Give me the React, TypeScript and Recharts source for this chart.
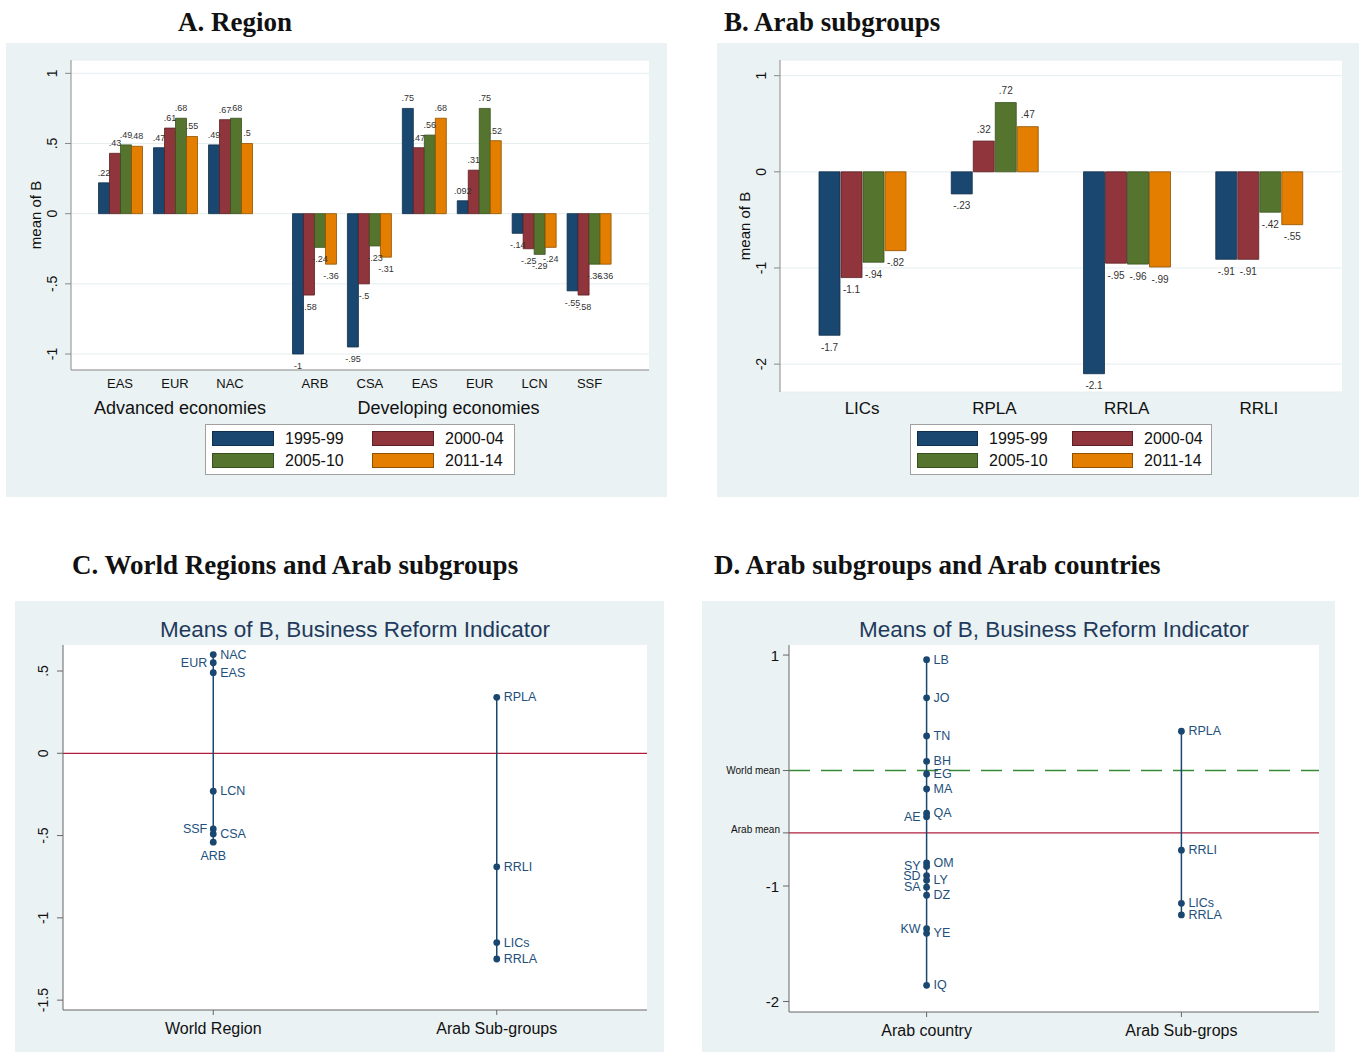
import React from 'react';
import {
  BarChart,
  Bar,
  XAxis,
  YAxis,
  CartesianGrid,
  LabelList,
  ScatterChart,
  Scatter,
  ReferenceLine,
} from 'recharts';

// Periods shown in the bar panels
const PERIODS = ['1995-99', '2000-04', '2005-10', '2011-14'];
const PERIOD_KEYS = ['p1', 'p2', 'p3', 'p4'];

// A. Region (mean of B by period)
const advancedRegions = ['EAS', 'EUR', 'NAC'];
const advancedValues = [
  [0.22, 0.43, 0.49, 0.48],
  [0.47, 0.61, 0.68, 0.55],
  [0.49, 0.67, 0.68, 0.5],
];
const developingRegions = ['ARB', 'CSA', 'EAS', 'EUR', 'LCN', 'SSF'];
const developingValues = [
  [-1, -0.58, -0.24, -0.36],
  [-0.95, -0.5, -0.23, -0.31],
  [0.75, 0.47, 0.56, 0.68],
  [0.092, 0.31, 0.75, 0.52],
  [-0.14, -0.25, -0.29, -0.24],
  [-0.55, -0.58, -0.36, -0.36],
];

// B. Arab subgroups
const arabGroups = ['LICs', 'RPLA', 'RRLA', 'RRLI'];
const arabGroupValues = [
  [-1.7, -1.1, -0.94, -0.82],
  [-0.23, 0.32, 0.72, 0.47],
  [-2.1, -0.95, -0.96, -0.99],
  [-0.91, -0.91, -0.42, -0.55],
];

// C. World regions and Arab subgroups
const worldRegionNames = ['NAC', 'EUR', 'EAS', 'LCN', 'SSF', 'CSA', 'ARB'];
const worldRegionMeans = [0.6, 0.55, 0.49, -0.23, -0.46, -0.49, -0.54];
const subgroupNames = ['RPLA', 'RRLI', 'LICs', 'RRLA'];
const subgroupMeans = [0.34, -0.69, -1.15, -1.25];

// D. Arab countries
const countryNames = ['LB', 'JO', 'TN', 'BH', 'EG', 'MA', 'QA', 'AE', 'OM', 'SY', 'SD', 'LY', 'SA', 'DZ', 'KW', 'YE', 'IQ'];
const countryMeans = [0.96, 0.63, 0.3, 0.08, -0.03, -0.16, -0.37, -0.4, -0.8, -0.83, -0.91, -0.95, -1.01, -1.08, -1.37, -1.41, -1.86];
const WORLD_MEAN = 0;
const ARAB_MEAN = -0.54;

const C_GROUPS = ['', 'World Region', 'Arab Sub-groups'];
const D_GROUPS = ['', 'Arab country', 'Arab Sub-grops'];

// styling
const COLORS = ['#1a476f', '#90353b', '#55752f', '#e37e00'];
const EDGES = ['#10304d', '#5c2024', '#37501c', '#8f5200'];
const NAVY = '#1a476f';
const LABEL_BLUE = '#22507c';
const RED = '#b01e3c';
const GREEN = '#378a37';
const PANEL_BG = '#eaf2f3';
const GRID = '#e6eef0';
const AXIS = '#8a8a8a';
const TXT = '#111';
const SANS = '"Liberation Sans", Arial, Helvetica, sans-serif';
const NARROW = '"Liberation Sans Narrow", "Arial Narrow", "Liberation Sans", sans-serif';
const SERIF = '"Liberation Serif", "Times New Roman", serif';

const toRows = (names: string[], values: number[][]) =>
  names.map((name, i) => {
    const row: any = { name };
    PERIOD_KEYS.forEach((k, j) => (row[k] = values[i][j]));
    return row;
  });

const toPoints = (names: string[], values: number[], g: number) =>
  names.map((name, i) => ({ g, v: values[i], name }));

// Stata-like number format: two significant digits, no leading zero
const fmt = (v: number) => {
  const n = parseFloat(Number(v).toPrecision(2));
  return String(n).replace(/^(-?)0\./, '$1.');
};

const makeBarLabel = (up: number, down: number, family: string, size: number) => (props: any) => {
  const vb = props.viewBox ?? props;
  const { x, y, width, height } = vb;
  const value = props.value;
  const top = Math.min(y, y + height);
  const bottom = Math.max(y, y + height);
  const ty = value >= 0 ? top - up : bottom + down;
  return (
    <text x={x + width / 2} y={ty} textAnchor="middle" dominantBaseline="central" fontSize={size} fontFamily={family} fill="#333">
      {fmt(value)}
    </text>
  );
};

const RotTick = (props: any) => {
  const { x, y, payload, dx, size } = props;
  const tx = x + dx;
  return (
    <text x={tx} y={y} transform={`rotate(-90, ${tx}, ${y})`} textAnchor="middle" fontSize={size} fontFamily={SANS} fill={TXT}>
      {fmt(payload.value)}
    </text>
  );
};

const CatTick = (props: any) => {
  const { x, y, payload, dy, size, names } = props;
  const label = names ? names[payload.value] : payload.value;
  return (
    <text x={x} y={y + dy} textAnchor="middle" dominantBaseline="central" fontSize={size} fontFamily={SANS} fill={TXT}>
      {label}
    </text>
  );
};

const MeanTick = (props: any) => {
  const { x, y, payload } = props;
  const v = payload.value;
  const small = v === WORLD_MEAN || v === ARAB_MEAN;
  const label = v === WORLD_MEAN ? 'World mean' : v === ARAB_MEAN ? 'Arab mean' : fmt(v);
  return (
    <text x={x - (small ? 3 : 4)} y={small && v === ARAB_MEAN ? y - 3 : y} textAnchor="end" dominantBaseline="central" fontSize={small ? 10 : 15} fontFamily={SANS} fill={TXT}>
      {label}
    </text>
  );
};

const makeDot = (left: string[], below: string[]) => (props: any) => {
  const { cx, cy, payload } = props;
  const name = payload.name;
  let label;
  if (below.includes(name)) {
    label = <text x={cx} y={cy + 14} textAnchor="middle" dominantBaseline="central" fontSize={12.5} fontFamily={SANS} fill={LABEL_BLUE}>{name}</text>;
  } else if (left.includes(name)) {
    label = <text x={cx - 6} y={cy} textAnchor="end" dominantBaseline="central" fontSize={12.5} fontFamily={SANS} fill={LABEL_BLUE}>{name}</text>;
  } else {
    label = <text x={cx + 7} y={cy} textAnchor="start" dominantBaseline="central" fontSize={12.5} fontFamily={SANS} fill={LABEL_BLUE}>{name}</text>;
  }
  return (
    <g>
      <circle cx={cx} cy={cy} r={3.4} fill={NAVY} />
      {label}
    </g>
  );
};

const Box = ({ left, top, width, height, bg }: any) => (
  <div style={{ position: 'absolute', left, top, width, height, background: bg }} />
);

const Title = ({ left, top, text }: any) => (
  <div style={{ position: 'absolute', left, top, fontFamily: SERIF, fontWeight: 'bold', fontSize: 27, lineHeight: '30px', color: '#111', whiteSpace: 'nowrap' }}>
    {text}
  </div>
);

const ChartTitle = ({ center, top, text }: any) => (
  <div style={{ position: 'absolute', left: center - 300, width: 600, top, textAlign: 'center', fontFamily: SANS, fontSize: 22.5, lineHeight: '26px', color: '#1f3a5c' }}>
    {text}
  </div>
);

const PeriodLegend = ({ left, top, width, col2, sw }: any) => (
  <div style={{ position: 'absolute', left, top, width, height: 51, background: '#fff', border: '1px solid #a0a0a0', boxSizing: 'border-box', fontFamily: SANS, fontSize: 16, color: TXT }}>
    {PERIODS.map((p, i) => {
      const col = i % 2;
      const row = Math.floor(i / 2);
      return (
        <div key={p} style={{ position: 'absolute', left: 6 + col * col2, top: 6 + row * 22, height: 15, display: 'flex', alignItems: 'center' }}>
          <span style={{ display: 'inline-block', width: sw, height: 15, background: COLORS[i], border: `1px solid ${EDGES[i]}`, boxSizing: 'border-box' }} />
          <span style={{ marginLeft: 11, lineHeight: '15px', whiteSpace: 'nowrap' }}>{p}</span>
        </div>
      );
    })}
  </div>
);

const Abs = ({ left, top, children }: any) => (
  <div style={{ position: 'absolute', left, top }}>{children}</div>
);

const labelA = makeBarLabel(10, 12, SANS, 9);
const labelB = makeBarLabel(12, 12, NARROW, 10);

const A_DOMAIN: [number, number] = [-1.114, 1.095];
const A_TICKS = [-1, -0.5, 0, 0.5, 1];

const App: React.FC = () => {
  const advancedRows = toRows(advancedRegions, advancedValues);
  const developingRows = toRows(developingRegions, developingValues);
  const arabRows = toRows(arabGroups, arabGroupValues);
  const worldPts = toPoints(worldRegionNames, worldRegionMeans, 1);
  const subPts = toPoints(subgroupNames, subgroupMeans, 2);
  const countryPts = toPoints(countryNames, countryMeans, 1);

  const bars = (label: any) =>
    PERIOD_KEYS.map((k, i) => (
      <Bar key={k} dataKey={k} fill={COLORS[i]} stroke={EDGES[i]} strokeWidth={0.8} isAnimationActive={false}>
        <LabelList dataKey={k} content={label} />
      </Bar>
    ));

  return (
    <div style={{ position: 'absolute', left: 0, top: 0, width: 1361, height: 1052, background: '#fff', overflow: 'hidden' }}>
      {/* backgrounds */}
      <Box left={6} top={43} width={661} height={454} bg={PANEL_BG} />
      <Box left={71} top={60} width={578} height={310} bg="#fff" />
      <Box left={717} top={43} width={642} height={454} bg={PANEL_BG} />
      <Box left={780} top={60} width={562} height={332} bg="#fff" />
      <Box left={15} top={601} width={649} height={451} bg={PANEL_BG} />
      <Box left={63} top={645} width={584} height={365} bg="#fff" />
      <Box left={702} top={601} width={633} height={451} bg={PANEL_BG} />
      <Box left={789} top={645} width={530} height={367} bg="#fff" />

      <Title left={178} top={7} text="A. Region" />
      <Title left={724} top={7} text="B. Arab subgroups" />
      <Title left={72} top={550} text="C. World Regions and Arab subgroups" />
      <Title left={714} top={550} text="D. Arab subgroups and Arab countries" />

      {/* A: advanced economies */}
      <Abs left={6} top={43}>
        <BarChart width={266} height={454} data={advancedRows} margin={{ top: 17, right: 0, bottom: 83, left: 25 }} barGap={0} barSize={11}>
          <CartesianGrid vertical={false} stroke={GRID} />
          <XAxis
            dataKey="name"
            interval={0}
            padding={{ left: 21.5, right: 14.5 }}
            height={44}
            tickSize={0}
            tickMargin={0}
            tickLine={false}
            axisLine={{ stroke: AXIS }}
            tick={(p: any) => <CatTick {...p} dy={13} size={13} />}
            label={{ value: 'Advanced economies', position: 'insideBottom', offset: 0, dx: 8.5, fontSize: 18, fill: TXT, fontFamily: SANS }}
          />
          <YAxis
            domain={A_DOMAIN}
            ticks={A_TICKS}
            width={40}
            tickSize={6}
            tickMargin={0}
            axisLine={{ stroke: AXIS }}
            tickLine={{ stroke: AXIS }}
            tick={(p: any) => <RotTick {...p} dx={-8} size={14} />}
            label={{ value: 'mean of B', angle: -90, position: 'center', dx: -15, fontSize: 15, fill: TXT, fontFamily: SANS }}
          />
          {bars(labelA)}
        </BarChart>
      </Abs>

      {/* A: developing economies */}
      <Abs left={272} top={43}>
        <BarChart width={395} height={454} data={developingRows} margin={{ top: 17, right: 18, bottom: 83, left: 0 }} barGap={0} barSize={11}>
          <CartesianGrid vertical={false} stroke={GRID} />
          <XAxis
            dataKey="name"
            interval={0}
            padding={{ left: 15.5, right: 32 }}
            height={44}
            tickSize={0}
            tickMargin={0}
            tickLine={false}
            axisLine={{ stroke: AXIS }}
            tick={(p: any) => <CatTick {...p} dy={13} size={13} />}
            label={{ value: 'Developing economies', position: 'insideBottom', offset: 0, dx: -12, fontSize: 18, fill: TXT, fontFamily: SANS }}
          />
          <YAxis hide domain={A_DOMAIN} ticks={A_TICKS} />
          {bars(labelA)}
        </BarChart>
      </Abs>
      <PeriodLegend left={205} top={424} width={310} col2={160} sw={62} />

      {/* B */}
      <Abs left={717} top={43}>
        <BarChart width={642} height={454} data={arabRows} margin={{ top: 17, right: 17, bottom: 65, left: 23 }} barGap={1} barSize={21}>
          <CartesianGrid vertical={false} stroke={GRID} />
          <XAxis
            dataKey="name"
            interval={0}
            padding={{ left: 16, right: 17 }}
            height={40}
            tickSize={0}
            tickMargin={0}
            tickLine={false}
            axisLine={false}
            tick={(p: any) => <CatTick {...p} dy={16} size={17} />}
          />
          <YAxis
            domain={[-2.29, 1.163]}
            ticks={[-2, -1, 0, 1]}
            width={40}
            tickSize={6}
            tickMargin={0}
            axisLine={{ stroke: AXIS }}
            tickLine={{ stroke: AXIS }}
            tick={(p: any) => <RotTick {...p} dx={-8} size={14} />}
            label={{ value: 'mean of B', angle: -90, position: 'center', dx: -15, fontSize: 15, fill: TXT, fontFamily: SANS }}
          />
          {bars(labelB)}
        </BarChart>
      </Abs>
      <PeriodLegend left={910} top={424} width={302} col2={155} sw={61} />

      {/* C */}
      <ChartTitle center={355} top={617} text="Means of B, Business Reform Indicator" />
      <Abs left={15} top={601}>
        <ScatterChart width={649} height={451} margin={{ top: 44, right: 17, bottom: 12, left: 8 }}>
          <XAxis
            type="number"
            dataKey="g"
            domain={[0.47, 2.53]}
            ticks={[1, 2]}
            height={30}
            tickSize={5}
            tickMargin={0}
            axisLine={{ stroke: '#666' }}
            tickLine={{ stroke: '#666' }}
            tick={(p: any) => <CatTick {...p} dy={13} size={16} names={C_GROUPS} />}
          />
          <YAxis
            type="number"
            dataKey="v"
            domain={[-1.56, 0.658]}
            ticks={[-1.5, -1, -0.5, 0, 0.5]}
            width={40}
            tickSize={6}
            tickMargin={0}
            axisLine={{ stroke: '#666' }}
            tickLine={{ stroke: '#666' }}
            tick={(p: any) => <RotTick {...p} dx={-9} size={14} />}
          />
          <ReferenceLine y={0} stroke={RED} strokeWidth={1.2} />
          <Scatter data={worldPts} line={{ stroke: NAVY, strokeWidth: 1.5 }} lineType="joint" shape={makeDot(['EUR', 'SSF'], ['ARB'])} isAnimationActive={false} />
          <Scatter data={subPts} line={{ stroke: NAVY, strokeWidth: 1.5 }} lineType="joint" shape={makeDot([], [])} isAnimationActive={false} />
        </ScatterChart>
      </Abs>

      {/* D */}
      <ChartTitle center={1054} top={617} text="Means of B, Business Reform Indicator" />
      <Abs left={702} top={601}>
        <ScatterChart width={633} height={451} margin={{ top: 44, right: 16, bottom: 10, left: 27 }}>
          <XAxis
            type="number"
            dataKey="g"
            domain={[0.46, 2.54]}
            ticks={[1, 2]}
            height={30}
            tickSize={5}
            tickMargin={0}
            axisLine={{ stroke: '#666' }}
            tickLine={{ stroke: '#666' }}
            tick={(p: any) => <CatTick {...p} dy={13} size={16} names={D_GROUPS} />}
          />
          <YAxis
            type="number"
            dataKey="v"
            domain={[-2.091, 1.087]}
            ticks={[-2, -1, ARAB_MEAN, WORLD_MEAN, 1]}
            width={60}
            tickSize={6}
            tickMargin={0}
            axisLine={{ stroke: '#666' }}
            tickLine={{ stroke: '#666' }}
            tick={(p: any) => <MeanTick {...p} />}
          />
          <ReferenceLine y={WORLD_MEAN} stroke={GREEN} strokeWidth={1.4} strokeDasharray="21 11" />
          <ReferenceLine y={ARAB_MEAN} stroke={RED} strokeWidth={1.2} />
          <Scatter data={countryPts} line={{ stroke: NAVY, strokeWidth: 1.5 }} lineType="joint" shape={makeDot(['AE', 'SY', 'SD', 'SA', 'KW'], [])} isAnimationActive={false} />
          <Scatter data={subPts} line={{ stroke: NAVY, strokeWidth: 1.5 }} lineType="joint" shape={makeDot([], [])} isAnimationActive={false} />
        </ScatterChart>
      </Abs>
    </div>
  );
};

export default App;
